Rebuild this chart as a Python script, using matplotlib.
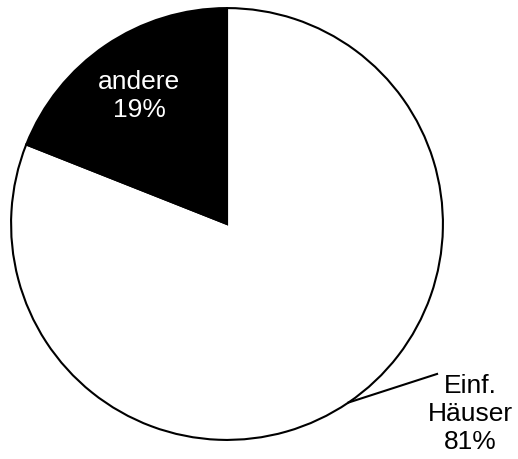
import numpy as np
import matplotlib.pyplot as plt

plt.rcParams['font.family'] = ['Liberation Sans', 'DejaVu Sans']

labels = ["Einf.\nHäuser", "andere"]
shares = [81, 19]
colors = ["white", "black"]
text_colors = ["black", "white"]

W, H = 518, 460
fig = plt.figure(figsize=(W / 100, H / 100), dpi=100)
cx, cy, r = 227, 225, 217
ax = fig.add_axes([(cx - r) / W, (H - cy - r) / H, 2 * r / W, 2 * r / H])

wedges, _ = ax.pie(shares, colors=colors, startangle=90, counterclock=False,
                   radius=0.995,
                   wedgeprops=dict(edgecolor="black", linewidth=1.5))
ax.set_xlim(-1, 1)
ax.set_ylim(-1, 1)
ax.set_aspect("equal")
ax.axis("off")

for w, lab, val, tc in zip(wedges, labels, shares, text_colors):
    mid = np.deg2rad((w.theta1 + w.theta2) / 2)
    txt = f"{lab}\n{val}%"
    if val < 50:
        ax.text(0.72 * np.cos(mid), 0.72 * np.sin(mid), txt, color=tc,
                ha="center", va="center", fontsize=19)
    else:
        ex, ey = 0.995 * np.cos(mid), 0.995 * np.sin(mid)
        ax.plot([ex, 0.968], [ey, -0.691], color="black", lw=1.5,
                clip_on=False)
        ax.text(1.12, -0.871, txt, color=tc, ha="center", va="center",
                fontsize=19, clip_on=False)

fig.savefig("out.png", dpi=100)
